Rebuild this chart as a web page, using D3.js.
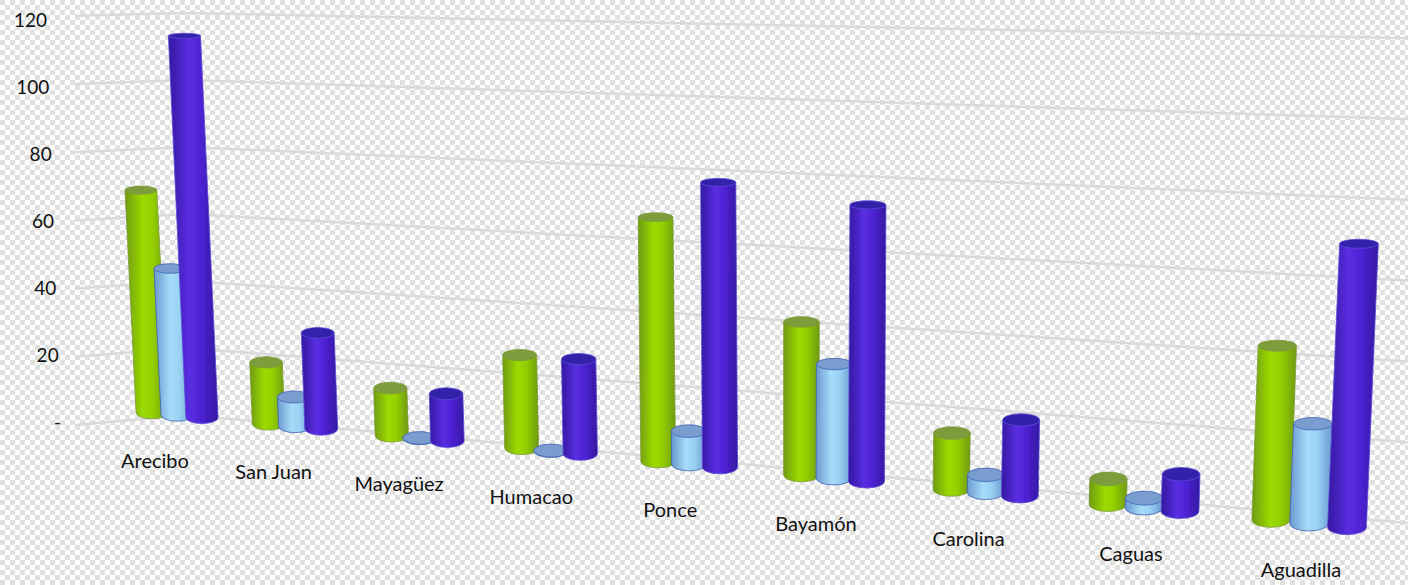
<!DOCTYPE html>
<html>
<head>
<meta charset="utf-8">
<script src="https://cdn.jsdelivr.net/npm/d3@7"></script>
<style>
  html, body { margin: 0; padding: 0; background: #fff; }
  svg { display: block; }
  text { font-family: Lato, "Open Sans", sans-serif; fill: #111; }
</style>
</head>
<body>
<div id="chart"></div>
<script>
const categories = ["Arecibo", "San Juan", "Mayagüez", "Humacao", "Ponce", "Bayamón", "Carolina", "Caguas", "Aguadilla"];
const greenValues = [66.8, 18.1, 13.7, 26.3, 67.5, 41.4, 14.9, 6.6, 44];
const lightValues = [43.8, 8.6, 0.1, 0.1, 9.1, 30.7, 4.7, 2.5, 25.1];
const purpleValues = [113.6, 28, 13.5, 26.5, 78, 74, 19.9, 9.5, 70.8];
const tickValues = [0, 20, 40, 60, 80, 100, 120];

const width = 1408, height = 585;

const svg = d3.select("#chart").append("svg")
  .attr("width", width)
  .attr("height", height);

const defs = svg.append("defs");

// checker background, the source image had its transparency flattened
const pattern = defs.append("pattern")
  .attr("id", "checker")
  .attr("width", 10)
  .attr("height", 10)
  .attr("patternUnits", "userSpaceOnUse");
pattern.append("rect").attr("width", 10).attr("height", 10).attr("fill", "#fff");
pattern.append("rect").attr("width", 5).attr("height", 5).attr("fill", "#e0e0e0");
pattern.append("rect").attr("x", 5).attr("y", 5).attr("width", 5).attr("height", 5).attr("fill", "#e0e0e0");

defs.append("filter").attr("id", "soft")
  .attr("x", "-5%").attr("y", "-5%").attr("width", "110%").attr("height", "110%")
  .append("feGaussianBlur").attr("stdDeviation", 0.7);

svg.append("rect").attr("width", width).attr("height", height).attr("fill", "url(#checker)");

const series = [
  { key: "green", values: greenValues, stops: ["#6f9a10", "#9bdb00", "#93cf00", "#6f9a10"], cap: "#7d9c3a", edge: "#7d9c3a", slot: -1 },
  { key: "light", values: lightValues, stops: ["#6a97cf", "#a6dcf8", "#9ad2f4", "#6a97cf"], cap: "#7a9dd0", edge: "#3f62b4", slot: 0 },
  { key: "purple", values: purpleValues, stops: ["#3418a0", "#5a2ee2", "#4d22d4", "#3418a0"], cap: "#3320aa", edge: "#5a4ad8", slot: 1 }
];

series.forEach(s => {
  const g = defs.append("linearGradient").attr("id", "grad-" + s.key);
  [0, 0.42, 0.65, 1].forEach((o, i) => {
    g.append("stop").attr("offset", o).attr("stop-color", s.stops[i]);
  });
});

// the picture is a warped 3D chart, so floor and unit height both change with x
const floorY = d3.scaleLinear().domain([203, 1348]).range([417.5, 527.5]);
const unitPx = d3.scaleLinear().domain([186, 1408]).range([3.35, 4.04]);
const gridFloorY = d3.scaleLinear().domain([75, 186, 1408]).range([425, 415, 523]);
const gridUnitPx = d3.scaleLinear().domain([75, 186, 1408]).range([3.41, 3.35, 4.04]);
const groupX = d3.scalePow().exponent(2).domain([17, 25]).range([177, 1309]);
const slotGap = d3.scaleLinear().domain([177, 1309]).range([25, 38]);
const barWidth = d3.scaleLinear().domain([177, 1309]).range([32, 38.5]);
const lean = d3.scaleLinear().domain([800, 13800]).range([0, 1]);
const capRy = d3.scaleLinear().domain([30, 500]).range([2.5, 7]);
const labelShift = d3.scaleLinear().domain([177, 986, 1144, 1309]).range([-22, -17, -13, -8]);
const axisLabelRight = d3.scaleLinear().domain([0, 120]).range([61, 47]);

// gridlines
const gridLine = d3.line().x(d => d[0]).y(d => d[1]);
svg.append("g")
  .attr("filter", "url(#soft)")
  .selectAll("path")
  .data(tickValues)
  .join("path")
  .attr("d", v => gridLine([75, 186, 1408].map(x => [x, gridFloorY(x) - v * gridUnitPx(x)])))
  .attr("fill", "none")
  .attr("stroke", "#dadada")
  .attr("stroke-width", 2.5);

// value axis
const yAxis = d3.scaleLinear().domain([0, 120]).range([422.5, 20.5]);
const axisG = svg.append("g").call(
  d3.axisLeft(yAxis).tickValues(tickValues).tickSize(0).tickFormat(v => v === 0 ? "-" : v)
);
axisG.select(".domain").remove();
axisG.selectAll("text")
  .attr("x", v => axisLabelRight(v))
  .attr("dy", "0.34em")
  .attr("text-anchor", "end")
  .style("font-family", "Lato, 'Open Sans', sans-serif")
  .style("font-size", "19px");

// one record per cylinder, drawn group by group from left to right
const bars = categories.flatMap((c, i) => series.map(s => {
  const cx = groupX(i + 17);
  const x0 = cx + s.slot * slotGap(cx);
  const baseY = floorY(x0);
  const topY = baseY - s.values[i] * unitPx(x0);
  const topX = x0 + lean(x0) * (baseY - topY);
  return { s, x0, baseY, topY, topX, w: barWidth(x0) };
}));

const barG = svg.append("g")
  .attr("filter", "url(#soft)")
  .selectAll("g").data(bars).join("g");

barG.append("path")
  .attr("d", b => {
    const r = b.w / 2;
    return `M${b.topX - r},${b.topY}L${b.x0 - r},${b.baseY}` +
      `A${r},${capRy(b.baseY)} 0 0 0 ${b.x0 + r},${b.baseY}L${b.topX + r},${b.topY}Z`;
  })
  .attr("fill", b => `url(#grad-${b.s.key})`)
  .attr("stroke", b => b.s.edge)
  .attr("stroke-width", 0.8);

barG.append("ellipse")
  .attr("cx", b => b.topX)
  .attr("cy", b => b.topY)
  .attr("rx", b => b.w / 2)
  .attr("ry", b => capRy(b.topY))
  .attr("fill", b => b.s.cap)
  .attr("stroke", b => b.s.edge)
  .attr("stroke-width", 0.8);

// category names
svg.append("g").selectAll("text")
  .data(categories)
  .join("text")
  .attr("x", (c, i) => groupX(i + 17) + labelShift(groupX(i + 17)))
  .attr("y", (c, i) => floorY(groupX(i + 17)) + 53)
  .attr("text-anchor", "middle")
  .style("font-size", "20px")
  .text(c => c);
</script>
</body>
</html>
